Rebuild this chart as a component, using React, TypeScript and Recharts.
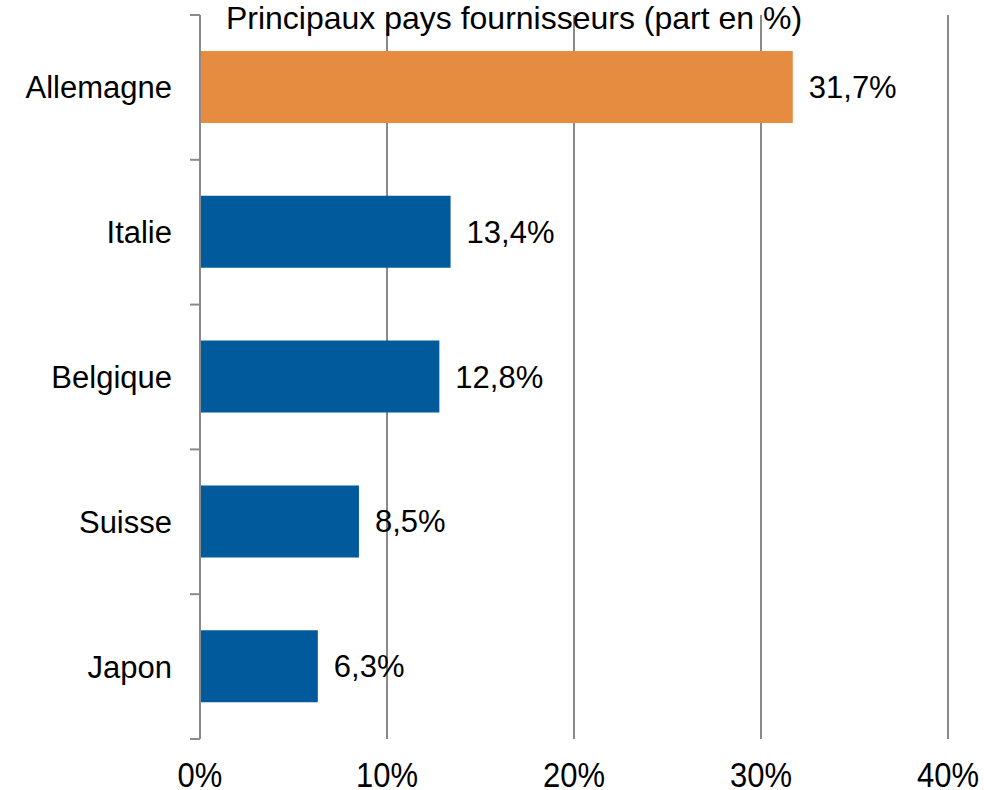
import React from 'react';
import { BarChart, Bar, XAxis, YAxis, CartesianGrid, LabelList, Cell } from 'recharts';

const countries = ['Allemagne', 'Italie', 'Belgique', 'Suisse', 'Japon'];
const shares = [31.7, 13.4, 12.8, 8.5, 6.3];
const barColors = ['#E68C40', '#005A9B', '#005A9B', '#005A9B', '#005A9B'];
const xTicks = [0, 10, 20, 30, 40];
const title = 'Principaux pays fournisseurs (part en %)';

const data = countries.map((c, i) => ({ country: c, share: shares[i] }));

const FONT = '"Liberation Sans", Arial, sans-serif';
const GRID = '#8a8a8a';

const fmtPct = (v: any) => `${String(v).replace('.', ',')}%`;

const XTick = (props: any) => {
  const { x, y, payload } = props;
  return (
    <g transform={`translate(${x},${y + 48})`}>
      <text x={0} y={0} textAnchor="middle" fontSize={31} fontFamily={FONT} fill="#000" transform="scale(1,1.15)">
        {`${payload.value}%`}
      </text>
    </g>
  );
};

const YTick = (props: any) => {
  const { x, y, payload, index, visibleTicksCount, height } = props;
  const h = Number(height) || 0;
  const n = Number(visibleTicksCount) || countries.length;
  const half = h / n / 2;
  return (
    <g>
      <line x1={x - 10} x2={x} y1={y - half} y2={y - half} stroke={GRID} strokeWidth={2} />
      {index === n - 1 && (
        <line x1={x - 10} x2={x} y1={y + half} y2={y + half} stroke={GRID} strokeWidth={2} />
      )}
      <text x={x - 28} y={y} dy="0.355em" textAnchor="end" fontSize={31} fontFamily={FONT} fill="#000">
        {payload.value}
      </text>
    </g>
  );
};

export default function App() {
  return (
    <div style={{ position: 'absolute', left: 0, top: 0, width: 984, height: 790, background: '#fff' }}>
      <BarChart
        width={984}
        height={790}
        data={data}
        layout="vertical"
        margin={{ top: 15, right: 36, bottom: 0, left: 0 }}
      >
        <CartesianGrid horizontal={false} vertical={true} stroke={GRID} strokeWidth={2} />
        <XAxis
          type="number"
          domain={[0, 40]}
          ticks={xTicks}
          axisLine={false}
          tickLine={false}
          tickSize={0}
          tickMargin={0}
          height={51}
          tick={<XTick />}
          interval={0}
        />
        <YAxis
          type="category"
          dataKey="country"
          width={200}
          interval={0}
          tickLine={false}
          tickSize={0}
          tickMargin={0}
          tick={<YTick />}
          axisLine={{ stroke: GRID, strokeWidth: 2 }}
        />
        <Bar dataKey="share" barSize={72} isAnimationActive={false}>
          {data.map((d, i) => (
            <Cell key={d.country} fill={barColors[i]} />
          ))}
          <LabelList
            dataKey="share"
            position="right"
            offset={16}
            formatter={fmtPct}
            fill="#000"
            fontSize={31}
            fontFamily={FONT}
          />
        </Bar>
      </BarChart>
      <div
        style={{
          position: 'absolute',
          left: 514,
          top: 2,
          transform: 'translateX(-50%)',
          whiteSpace: 'nowrap',
          fontFamily: FONT,
          fontSize: 32,
          lineHeight: '32px',
          color: '#000',
        }}
      >
        {title}
      </div>
    </div>
  );
}
